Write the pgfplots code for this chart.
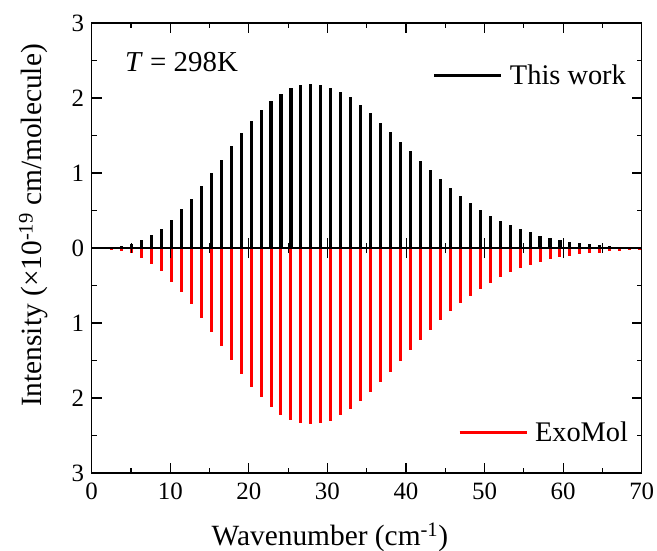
\documentclass[border=0pt]{standalone}
\usepackage{fontspec}
\setmainfont{Liberation Serif}
\usepackage{pgfplots}
\usepackage{pgfplotstable}
\pgfplotsset{compat=1.18}

\pgfplotstableread{
x tw exo
2.54 0.010 -0.020
3.80 0.030 -0.040
5.07 0.060 -0.070
6.34 0.110 -0.130
7.61 0.170 -0.210
8.88 0.260 -0.310
10.14 0.380 -0.450
11.41 0.520 -0.590
12.68 0.660 -0.740
13.95 0.830 -0.930
15.22 1.000 -1.120
16.48 1.180 -1.300
17.75 1.360 -1.490
19.02 1.530 -1.680
20.29 1.700 -1.850
21.56 1.840 -1.990
22.82 1.960 -2.120
24.09 2.050 -2.230
25.36 2.130 -2.290
26.63 2.170 -2.330
27.90 2.190 -2.350
29.16 2.170 -2.330
30.43 2.140 -2.300
31.70 2.080 -2.230
32.97 2.010 -2.150
34.24 1.910 -2.040
35.50 1.800 -1.920
36.77 1.670 -1.790
38.04 1.550 -1.650
39.31 1.420 -1.500
40.58 1.290 -1.360
41.84 1.160 -1.220
43.11 1.040 -1.090
44.38 0.920 -0.960
45.65 0.800 -0.840
46.92 0.700 -0.735
48.18 0.600 -0.635
49.45 0.510 -0.540
50.72 0.430 -0.470
51.99 0.360 -0.380
53.26 0.310 -0.320
54.52 0.250 -0.270
55.79 0.210 -0.230
57.06 0.165 -0.180
58.33 0.130 -0.150
59.60 0.107 -0.120
60.86 0.085 -0.100
62.13 0.067 -0.085
63.40 0.050 -0.070
64.67 0.036 -0.060
65.94 0.027 -0.045
67.20 0.018 -0.036
68.47 0.013 -0.030
69.74 0.008 -0.020
}\spectrum

\begin{document}
\begin{tikzpicture}
\begin{axis}[
  scale only axis, width=550bp, height=450bp,
  xmin=0, xmax=70, ymin=-3, ymax=3,
  xtick={0,10,...,70}, xticklabels={0,10,20,30,40,50,60,70},
  minor x tick num=1,
  ytick={-3,-2,-1,0,1,2,3}, yticklabels={3,2,1,0,1,2,3},
  minor y tick num=1,
  tick align=inside,
  major tick length=10bp, minor tick length=5bp,
  major tick style={black, line width=1.1bp},
  minor tick style={black, line width=1.1bp},
  axis line style={line width=1.2bp},
  tick label style={font=\fontsize{25}{25}\selectfont},
  yticklabel style={xshift=-4bp},
  xticklabel style={yshift=-6bp},
  xlabel={Wavenumber (cm\textsuperscript{-1})},
  ylabel={Intensity (×10\textsuperscript{-19} cm/molecule)},
  label style={font=\fontsize{29.5}{31}\selectfont},
  xlabel style={at={(axis description cs:0.433,-0.16)}, anchor=base},
  ylabel style={at={(axis description cs:-0.0909,0.55)}, anchor=base},
  legend image code/.code={\draw[#1] (0bp,0bp) -- (67bp,0bp);},
  legend style={at={(axis description cs:0.6205,0.884)}, anchor=west,
    draw=none, fill=none, inner sep=0pt, outer sep=0pt,
    font=\fontsize{28.5}{30}\selectfont, nodes={inner sep=0pt}, column sep=7bp},
]
\addplot[ycomb, black, line width=3.1bp, forget plot] table[x=x, y=tw]{\spectrum};
\addplot[ycomb, red, line width=3bp, forget plot] table[x=x, y=exo]{\spectrum};
\addlegendimage{black, line width=3bp}
\addlegendentry{This work}
\node[anchor=base west, inner sep=0pt, font=\fontsize{29}{30}\selectfont] at (axis cs:4.24,2.35) {\textit{T} = 298K};
\end{axis}
\begin{axis}[
  scale only axis, width=550bp, height=450bp,
  xmin=0, xmax=70, ymin=-3, ymax=3,
  axis x line=middle, axis y line=none,
  axis line style={-, line width=2.7bp},
  inner axis line style={-},
  xtick={0,10,...,70}, minor x tick num=1,
  xticklabel=\empty, ytick=\empty,
  tick align=center,
  major tick length=20bp, minor tick length=10bp,
  major tick style={black, line width=0.9bp},
  minor tick style={black, line width=0.9bp},
  legend image code/.code={\draw[#1] (0bp,0bp) -- (67bp,0bp);},
  legend style={at={(axis description cs:0.6660,0.091)}, anchor=west,
    draw=none, fill=none, inner sep=0pt, outer sep=0pt,
    font=\fontsize{28.5}{30}\selectfont, nodes={inner sep=0pt}, column sep=7bp},
]
\addlegendimage{red, line width=3bp}
\addlegendentry{ExoMol}
\end{axis}
\pgfresetboundingbox
\path ([shift={(-91.7bp,-77bp)}]current axis.south west) rectangle ([shift={(15.3bp,23bp)}]current axis.north east);
\end{tikzpicture}
\end{document}
